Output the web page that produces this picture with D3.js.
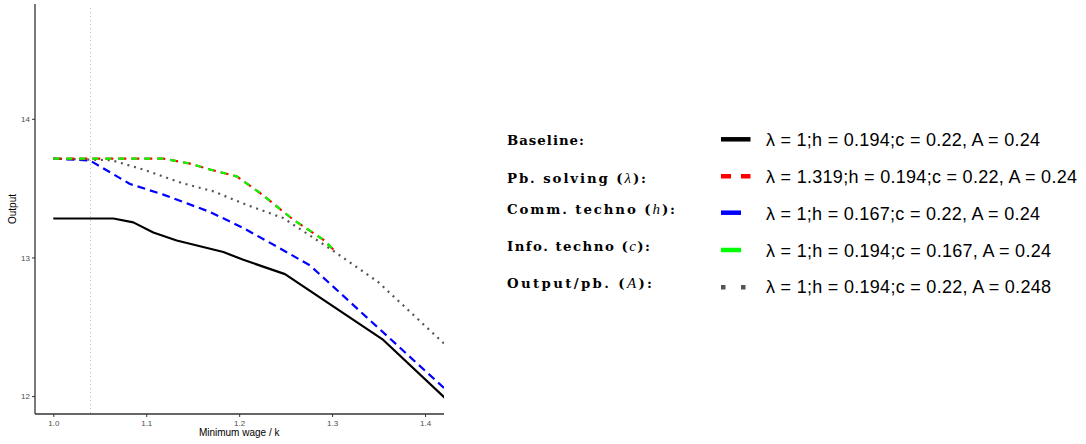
<!DOCTYPE html>
<html><head><meta charset="utf-8">
<script src="https://cdn.jsdelivr.net/npm/d3@7"></script>
<style>body{margin:0;background:#fff}svg{display:block}</style>
</head><body><svg id="c" width="1086" height="444"></svg>
<script>
// ---- data ----
const baselineX = [1.0, 1.0646, 1.0861, 1.1076, 1.1328, 1.183, 1.2045, 1.2493, 1.3551, 1.4208, 1.45];
const baselineY = [13.281, 13.281, 13.253, 13.180, 13.122, 13.039, 12.983, 12.880, 12.405, 11.991, 11.80];
const commX = [1.0, 1.0395, 1.0825, 1.1184, 1.1686, 1.2045, 1.2404, 1.2763, 1.4208, 1.45];
const commY = [13.713, 13.699, 13.530, 13.453, 13.328, 13.212, 13.079, 12.942, 12.056, 11.877];
const pbX = [1.0, 1.1184, 1.1471, 1.1686, 1.1974, 1.2225, 1.2583, 1.2906, 1.3033];
const pbY = [13.713, 13.713, 13.677, 13.634, 13.585, 13.465, 13.272, 13.128, 13.044];
const infoX = [1.0, 1.1184, 1.1471, 1.1686, 1.1974, 1.2225, 1.2583, 1.2906, 1.3033];
const infoY = [13.713, 13.713, 13.677, 13.634, 13.585, 13.465, 13.272, 13.128, 13.044];
const outX = [1.0, 1.0628, 1.0969, 1.1382, 1.1722, 1.2074, 1.2475, 1.2996, 1.3494, 1.4163, 1.45];
const outY = [13.713, 13.701, 13.634, 13.537, 13.477, 13.381, 13.284, 13.055, 12.824, 12.405, 12.195];
const vlineX = 1.04;
const xTicks = [1.0, 1.1, 1.2, 1.3, 1.4];
const yTicks = [12, 13, 14];
const xDomain = [0.9803, 1.4204];
const yDomain = [11.871, 14.828];
const legendNames = ["Baseline:", "Pb. solving (λ):", "Comm. techno (h):", "Info. techno (c):", "Output/pb. (A):"];
const legendValues = [
  "λ = 1;h = 0.194;c = 0.22, A = 0.24",
  "λ = 1.319;h = 0.194;c = 0.22, A = 0.24",
  "λ = 1;h = 0.167;c = 0.22, A = 0.24",
  "λ = 1;h = 0.194;c = 0.167, A = 0.24",
  "λ = 1;h = 0.194;c = 0.22, A = 0.248"
];

// ---- drawing ----
const svg = d3.select("#c");
const L = 35, R = 444, T = 4, B = 414;
const x = d3.scaleLinear().domain(xDomain).range([L, R]);
const y = d3.scaleLinear().domain(yDomain).range([B, T]);

svg.append("defs").append("clipPath").attr("id", "clip")
  .append("rect").attr("x", L).attr("y", T).attr("width", R - L).attr("height", B - T);

// vertical reference line
svg.append("line").attr("x1", x(vlineX)).attr("x2", x(vlineX)).attr("y1", T + 4).attr("y2", B)
  .attr("stroke", "#bdbdbd").attr("stroke-width", 1).attr("stroke-dasharray", "1 3");

const line = d3.line().x(d => x(d[0])).y(d => y(d[1]));
const g = svg.append("g").attr("clip-path", "url(#clip)");
function draw(xs, ys, color, dash, w) {
  g.append("path").datum(xs.map((v, i) => [v, ys[i]])).attr("d", line)
    .attr("fill", "none").attr("stroke", color).attr("stroke-width", w)
    .attr("stroke-dasharray", dash).attr("stroke-linejoin", "round");
}
draw(baselineX, baselineY, "#000000", null, 2.2);
draw(commX, commY, "#0000ff", "8 5", 2.2);
draw(outX, outY, "#555555", "2 4.8", 2.2);
draw(pbX, pbY, "#ff0000", "8 5", 2.2);
draw(infoX, infoY, "#00ff00", "6 7", 2.2);

// axes
const xa = svg.append("g").attr("transform", `translate(0,${B})`)
  .call(d3.axisBottom(x).tickValues(xTicks).tickFormat(d3.format(".1f")).tickSize(3).tickPadding(3));
const ya = svg.append("g").attr("transform", `translate(${L},0)`)
  .call(d3.axisLeft(y).tickValues(yTicks).tickFormat(d3.format("d")).tickSize(3).tickPadding(2));
[xa, ya].forEach(a => {
  a.select(".domain").attr("stroke", "#333").attr("stroke-width", 1.3);
  a.selectAll(".tick line").attr("stroke", "#333").attr("stroke-width", 1);
  a.selectAll(".tick text").attr("fill", "#4d4d4d").style("font-family", "Liberation Sans, Arial, sans-serif").style("font-size", "8px");
});
xa.select(".domain").attr("d", `M${L},0H${R}`);
ya.select(".domain").attr("d", `M0,${T}V${B}`);

svg.append("text").attr("x", x(1.2)).attr("y", 436).attr("text-anchor", "middle")
  .style("font-family", "Liberation Sans, Arial, sans-serif").style("font-size", "10px").text("Minimum wage / k");
svg.append("text").attr("transform", `translate(16,${(T + B) / 2}) rotate(-90)`).attr("text-anchor", "middle")
  .style("font-family", "Liberation Sans, Arial, sans-serif").style("font-size", "10px").text("Output");

// legend
const nameBase = [144.5, 182.5, 213.8, 250.5, 287.8];
const nameW = [77, 139, 168, 143, 145];
const keyY = [139.3, 176.2, 212.7, 250, 287.3];
const valBase = [145.7, 182.7, 219.8, 256.7, 293.3];
const valW = [274, 311, 274, 285, 285];
const keyLen = [29.5, 29.5, 20, 20, 29.5];
const keyColor = ["#000000", "#ff0000", "#0000ff", "#00ff00", "#555555"];
const keyDash = [null, "10 10", null, null, "4.5 15.5"];

legendNames.forEach((nm, i) => {
  const t = svg.append("text").attr("x", 507).attr("y", nameBase[i])
    .attr("textLength", nameW[i]).attr("lengthAdjust", "spacing")
    .style("font-family", "DejaVu Serif, Liberation Serif, serif").style("font-weight", "bold").style("font-size", "13.3px");
  const m = nm.match(/^(.*\()(.)(\):)$/);
  if (m) {
    t.append("tspan").text(m[1]);
    t.append("tspan").style("font-weight", "normal").style("font-style", "italic").style("font-family", "Liberation Serif, serif").style("font-size", "15px").text(m[2]);
    t.append("tspan").text(m[3]);
  } else t.text(nm);
  svg.append("line").attr("x1", 721).attr("x2", 721 + keyLen[i]).attr("y1", keyY[i]).attr("y2", keyY[i])
    .attr("stroke", keyColor[i]).attr("stroke-width", 4.5).attr("stroke-dasharray", keyDash[i]);
  svg.append("text").attr("x", 766).attr("y", valBase[i])
    .attr("textLength", valW[i]).attr("lengthAdjust", "spacing")
    .style("font-family", "Liberation Sans, Arial, sans-serif").style("font-size", "18px").text(legendValues[i]);
});
</script></body></html>
